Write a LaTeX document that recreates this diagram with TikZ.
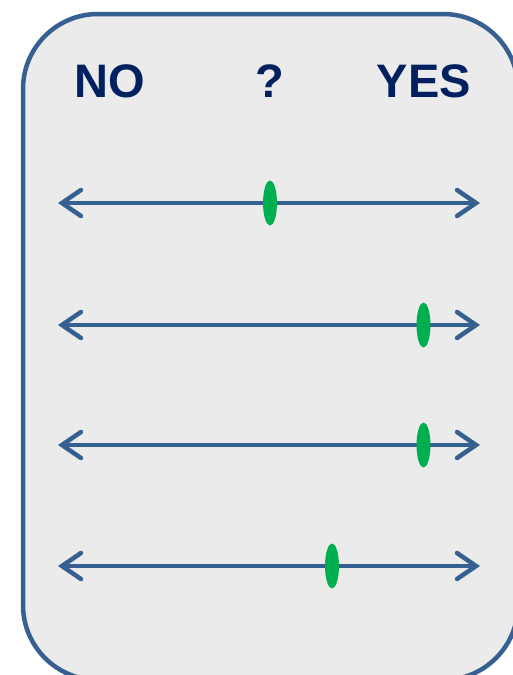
\documentclass[tikz,border=0pt]{standalone}
\usepackage{fontspec}
\setmainfont{Liberation Sans}
\usetikzlibrary{arrows.meta,shapes.geometric}
\definecolor{scaleblue}{RGB}{54,96,146}
\definecolor{panelgray}{RGB}{235,235,235}
\definecolor{labelnavy}{RGB}{0,32,96}
\definecolor{markgreen}{RGB}{0,176,80}

\begin{document}
\begin{tikzpicture}[
  x=1pt,y=-1pt,
  panel/.style={draw=scaleblue,fill=panelgray,line width=4.5pt,rounded corners=75pt},
  head/.style={font=\fontsize{47}{47}\selectfont\bfseries,text=labelnavy,inner sep=0pt},
  scaleline/.style={draw=scaleblue,line width=4.5pt,line cap=round,
                {Straight Barb[length=19pt,width=26pt,line cap=round]}-{Straight Barb[length=19pt,width=26pt,line cap=round]}},
  vote/.style={ellipse,fill=markgreen,minimum width=14pt,minimum height=45pt,inner sep=0pt},
]
\useasboundingbox (0,0) rectangle (512,675);

%% ---------------------------------------------------------------- panel
\draw[panel] (23,14) rectangle (518,680);

%% --------------------------------------------------------------- headers
\node[head] (no)  at (110,81) {NO};
\node[head] (unk) at (270,81) {?};
\node[head] (yes) at (424,81) {YES};

%% ---------------------------------------------------------------- scales
\foreach \sy/\mx [count=\si] in {203/270,325/423.5,445/423.5,566/332}{
  \coordinate (l\si) at (58,\sy);
  \coordinate (r\si) at (480,\sy);
  \draw[scaleline] (l\si) -- (r\si);
  \node[vote] (m\si) at (\mx,\sy) {};
}

\end{tikzpicture}
\end{document}
